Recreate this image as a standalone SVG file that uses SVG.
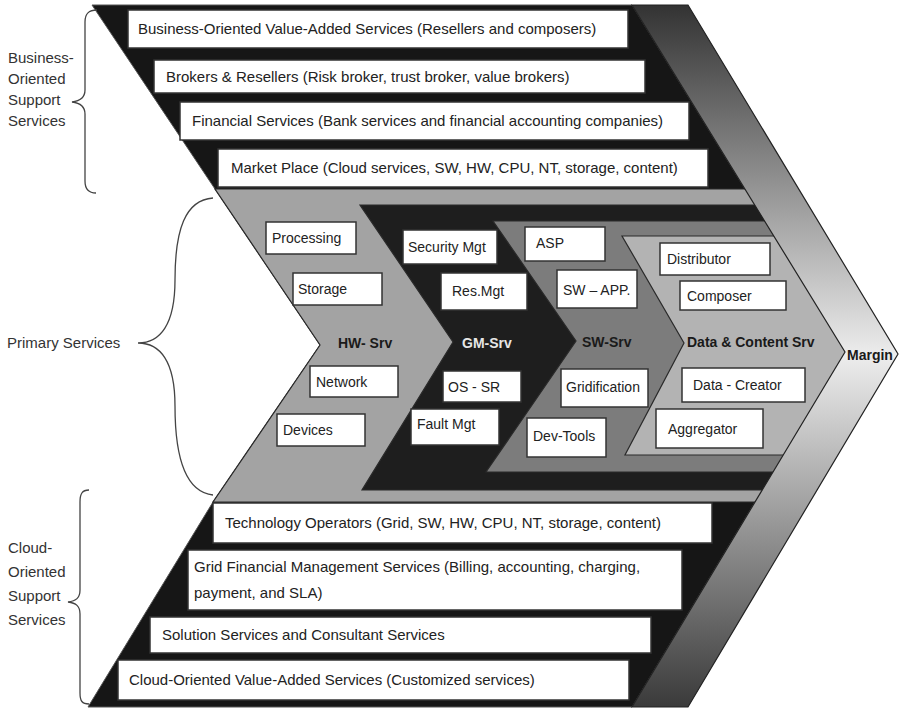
<svg xmlns="http://www.w3.org/2000/svg" width="899" height="709" viewBox="0 0 899 709">
<defs>
<linearGradient id="mg" gradientUnits="userSpaceOnUse" x1="0" y1="5" x2="0" y2="707">
<stop offset="0" stop-color="#333333"/>
<stop offset="0.5" stop-color="#ededed"/>
<stop offset="1" stop-color="#3a3a3a"/>
</linearGradient>
<style>
.t{font-family:"Liberation Sans",Arial,sans-serif;font-size:15px;fill:#222}
.s{font-family:"Liberation Sans",Arial,sans-serif;font-size:15px;fill:#333}
.i{font-family:"Liberation Sans",Arial,sans-serif;font-size:14px;fill:#222}
.b{font-family:"Liberation Sans",Arial,sans-serif;font-size:14px;font-weight:bold;fill:#1a1a1a}
.box{fill:#fff;stroke:#333;stroke-width:1.5}
.chev{stroke:#2a2a2a;stroke-width:1.2}
.brace{fill:none;stroke:#444;stroke-width:1.3}
</style>
</defs>
<rect width="899" height="709" fill="#fff"/>

<g id="body">
<polygon points="92,5 632,5 845,352 632,707 88,707 213,502 320,345 215,189" fill="#161616" stroke="#555" stroke-width="1"/>
</g>
<g id="hw-srv">
<polygon class="chev" points="215,189 749,189 850,352 760,502 213,502 320,345" fill="#a3a3a3"/>
</g>
<g id="gm-srv">
<polygon class="chev" points="360,205 759,205 850,352 767,490 362,490 453,342" fill="#1e1e1e"/>
</g>
<g id="sw-srv">
<polygon class="chev" points="493,221 769,221 850,352 778,472 486,472 576,341" fill="#7c7c7c"/>
</g>
<g id="data-srv">
<polygon class="chev" points="622,236 778,236 850,352 788,455 625,455 684,343" fill="#b3b3b3"/>
</g>
<g id="margin">
<polygon points="632,5 688,5 898,354 688,707 632,707 845,352" fill="url(#mg)" stroke="#222" stroke-width="1.2"/>
<text class="b" x="847" y="360">Margin</text>
</g>

<g id="biz-vas"><rect class="box" x="128" y="10" width="500" height="38"/><text class="t" x="138" y="34">Business-Oriented Value-Added Services (Resellers and composers)</text></g>
<g id="brokers"><rect class="box" x="154" y="60" width="491" height="33"/><text class="t" x="166" y="82">Brokers &amp; Resellers (Risk broker, trust broker, value brokers)</text></g>
<g id="financial"><rect class="box" x="180" y="102" width="509" height="38"/><text class="t" x="192" y="126">Financial Services (Bank services and financial accounting companies)</text></g>
<g id="market"><rect class="box" x="218" y="149" width="490" height="38"/><text class="t" x="231" y="173">Market Place (Cloud services, SW, HW, CPU, NT, storage, content)</text></g>

<g id="tech-ops"><rect class="box" x="213" y="503" width="499" height="40"/><text class="t" x="225" y="528">Technology Operators (Grid, SW, HW, CPU, NT, storage, content)</text></g>
<g id="grid-fin"><rect class="box" x="188" y="550" width="494" height="60"/><text class="t" x="194" y="572">Grid Financial Management Services (Billing, accounting, charging,</text><text class="t" x="194" y="598">payment, and SLA)</text></g>
<g id="solution"><rect class="box" x="150" y="617" width="501" height="36"/><text class="t" x="162" y="640">Solution Services and Consultant Services</text></g>
<g id="cloud-vas"><rect class="box" x="118" y="660" width="511" height="40"/><text class="t" x="129" y="685">Cloud-Oriented Value-Added Services (Customized services)</text></g>

<g id="hw-label"><text class="b" x="338" y="348">HW- Srv</text></g>
<g id="gm-label"><text class="b" x="462" y="348" style="fill:#e6e6e6">GM-Srv</text></g>
<g id="sw-label"><text class="b" x="582" y="347">SW-Srv</text></g>
<g id="data-label"><text class="b" x="687" y="347">Data &amp; Content Srv</text></g>

<g id="processing"><rect class="box" x="266" y="222" width="90" height="32"/><text class="i" x="272" y="243">Processing</text></g>
<g id="storage"><rect class="box" x="293" y="273" width="89" height="32"/><text class="i" x="298" y="294">Storage</text></g>
<g id="network"><rect class="box" x="310" y="366" width="88" height="31"/><text class="i" x="316" y="387">Network</text></g>
<g id="devices"><rect class="box" x="277" y="414" width="88" height="32"/><text class="i" x="283" y="435">Devices</text></g>

<g id="security"><rect class="box" x="403" y="230" width="94" height="34"/><text class="i" x="408" y="252">Security Mgt</text></g>
<g id="resmgt"><rect class="box" x="441" y="273" width="86" height="37"/><text class="i" x="452" y="296">Res.Mgt</text></g>
<g id="os-sr"><rect class="box" x="443" y="371" width="78" height="31"/><text class="i" x="448" y="392">OS - SR</text></g>
<g id="fault"><rect class="box" x="411" y="409" width="88" height="36"/><text class="i" x="417" y="429">Fault Mgt</text></g>

<g id="asp"><rect class="box" x="525" y="227" width="80" height="34"/><text class="i" x="536" y="248">ASP</text></g>
<g id="swapp"><rect class="box" x="557" y="270" width="80" height="38"/><text class="i" x="563" y="295">SW – APP.</text></g>
<g id="gridification"><rect class="box" x="561" y="369" width="87" height="38"/><text class="i" x="566" y="392">Gridification</text></g>
<g id="devtools"><rect class="box" x="527" y="418" width="79" height="39"/><text class="i" x="533" y="441">Dev-Tools</text></g>

<g id="distributor"><rect class="box" x="660" y="243" width="110" height="32"/><text class="i" x="667" y="264">Distributor</text></g>
<g id="composer"><rect class="box" x="680" y="281" width="106" height="29"/><text class="i" x="687" y="301">Composer</text></g>
<g id="creator"><rect class="box" x="682" y="368" width="123" height="34"/><text class="i" x="693" y="390">Data - Creator</text></g>
<g id="aggregator"><rect class="box" x="656" y="409" width="107" height="39"/><text class="i" x="668" y="434">Aggregator</text></g>

<g id="biz-label"><text class="s" x="8" y="63">Business-</text><text class="s" x="8" y="84">Oriented</text><text class="s" x="8" y="105">Support</text><text class="s" x="8" y="126">Services</text></g>
<g id="primary-label"><text class="s" x="7" y="348">Primary Services</text></g>
<g id="cloud-label"><text class="s" x="8" y="553">Cloud-</text><text class="s" x="8" y="577">Oriented</text><text class="s" x="8" y="601">Support</text><text class="s" x="8" y="625">Services</text></g>

<g id="connectors">
<path class="brace" d="M97,10 C88,10 85,14 85,22 L85,90 C85,98 80,101 72,102 C80,103 85,106 85,114 L85,181 C85,189 88,193 96,193"/>
<path class="brace" d="M213,198 C185,200 175,230 175,280 C175,325 160,343 138,343 C160,343 175,361 175,406 C175,456 185,492 213,495"/>
<path class="brace" d="M89,490 C82,490 80,494 80,502 L80,590 C80,598 76,601 68,602 C76,603 80,606 80,614 L80,693 C80,701 82,704 89,704"/>
</g>
</svg>
